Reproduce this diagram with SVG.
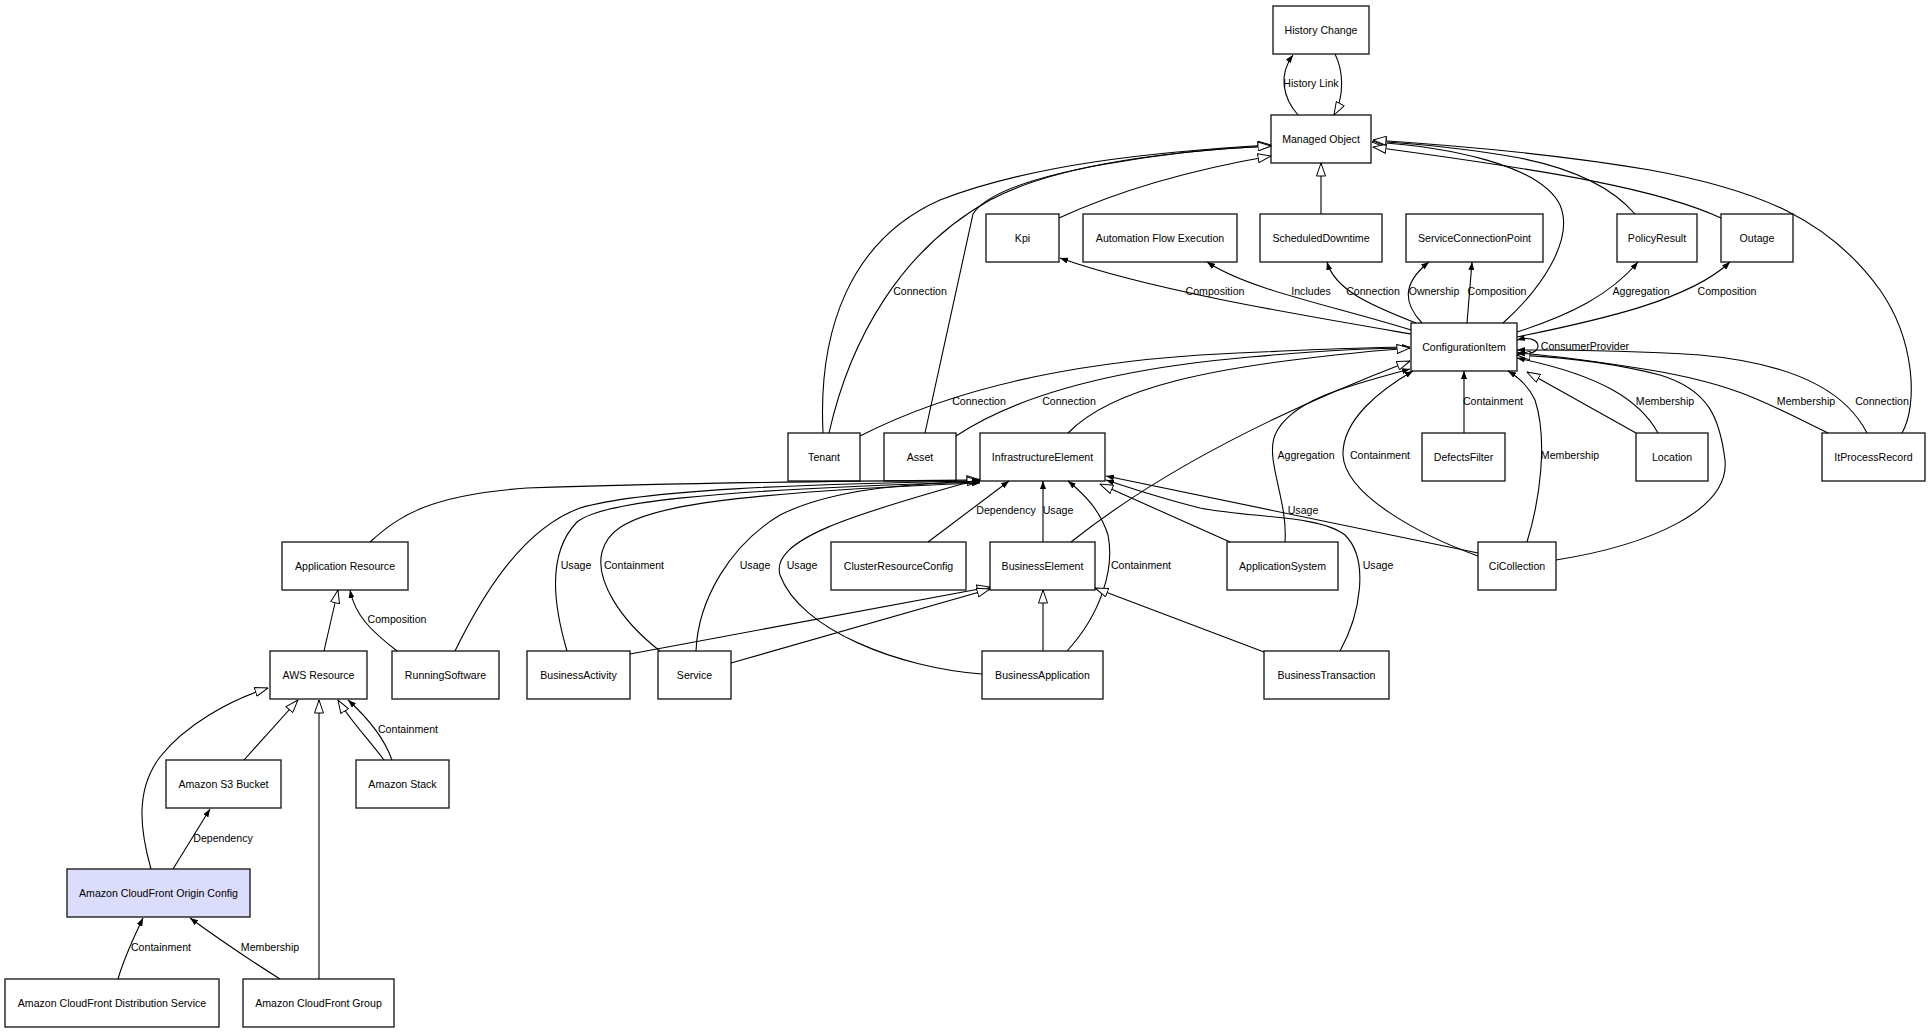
<svg xmlns="http://www.w3.org/2000/svg" width="1930" height="1033" viewBox="0 0 1930 1033">
<style>
.n rect{fill:#fff;stroke:#222;stroke-width:1.4}
.n text,.l{font-family:"Liberation Sans",Arial,sans-serif;font-size:10.6px;fill:#000;text-anchor:middle}
.e path{fill:none;stroke:#000;stroke-width:1.1}
.e .a{marker-end:url(#f)}
.e .g{marker-end:url(#h)}
</style>
<defs>
<marker id="f" viewBox="0 0 8 6" refX="8" refY="3" markerWidth="8" markerHeight="6" markerUnits="userSpaceOnUse" orient="auto"><path d="M0,0 L8,3 L0,6 z" fill="#000"/></marker>
<marker id="h" viewBox="0 0 14 10" refX="13.5" refY="5" markerWidth="14" markerHeight="10" markerUnits="userSpaceOnUse" orient="auto"><path d="M0.5,0.5 L13.5,5 L0.5,9.5 z" fill="#fff" stroke="#000" stroke-width="1"/></marker>
</defs>
<rect width="1930" height="1033" fill="#fff"/>
<g id="nodes">
<g id="HistoryChange" class="n"><rect x="1273" y="6" width="96" height="48"/><text x="1321" y="34">History Change</text></g>
<g id="ManagedObject" class="n"><rect x="1271" y="115" width="100" height="48"/><text x="1321" y="143">Managed Object</text></g>
<g id="Kpi" class="n"><rect x="986" y="214" width="73" height="48"/><text x="1022.5" y="242">Kpi</text></g>
<g id="AutomationFlowExecution" class="n"><rect x="1083" y="214" width="154" height="48"/><text x="1160" y="242">Automation Flow Execution</text></g>
<g id="ScheduledDowntime" class="n"><rect x="1260" y="214" width="122" height="48"/><text x="1321" y="242">ScheduledDowntime</text></g>
<g id="ServiceConnectionPoint" class="n"><rect x="1406" y="214" width="137" height="48"/><text x="1474.5" y="242">ServiceConnectionPoint</text></g>
<g id="PolicyResult" class="n"><rect x="1617" y="214" width="80" height="48"/><text x="1657" y="242">PolicyResult</text></g>
<g id="Outage" class="n"><rect x="1721" y="214" width="72" height="48"/><text x="1757" y="242">Outage</text></g>
<g id="ConfigurationItem" class="n"><rect x="1411" y="323" width="106" height="48"/><text x="1464" y="351">ConfigurationItem</text></g>
<g id="Tenant" class="n"><rect x="788" y="433" width="72" height="48"/><text x="824" y="461">Tenant</text></g>
<g id="Asset" class="n"><rect x="884" y="433" width="72" height="48"/><text x="920" y="461">Asset</text></g>
<g id="InfrastructureElement" class="n"><rect x="980" y="433" width="125" height="48"/><text x="1042.5" y="461">InfrastructureElement</text></g>
<g id="DefectsFilter" class="n"><rect x="1422" y="433" width="83" height="48"/><text x="1463.5" y="461">DefectsFilter</text></g>
<g id="Location" class="n"><rect x="1636" y="433" width="72" height="48"/><text x="1672" y="461">Location</text></g>
<g id="ItProcessRecord" class="n"><rect x="1822" y="433" width="103" height="48"/><text x="1873.5" y="461">ItProcessRecord</text></g>
<g id="ApplicationResource" class="n"><rect x="282" y="542" width="126" height="48"/><text x="345" y="570">Application Resource</text></g>
<g id="ClusterResourceConfig" class="n"><rect x="831" y="542" width="135" height="48"/><text x="898.5" y="570">ClusterResourceConfig</text></g>
<g id="BusinessElement" class="n"><rect x="990" y="542" width="105" height="48"/><text x="1042.5" y="570">BusinessElement</text></g>
<g id="ApplicationSystem" class="n"><rect x="1227" y="542" width="111" height="48"/><text x="1282.5" y="570">ApplicationSystem</text></g>
<g id="CiCollection" class="n"><rect x="1478" y="542" width="78" height="48"/><text x="1517" y="570">CiCollection</text></g>
<g id="AWSResource" class="n"><rect x="270" y="651" width="97" height="48"/><text x="318.5" y="679">AWS Resource</text></g>
<g id="RunningSoftware" class="n"><rect x="392" y="651" width="107" height="48"/><text x="445.5" y="679">RunningSoftware</text></g>
<g id="BusinessActivity" class="n"><rect x="527" y="651" width="103" height="48"/><text x="578.5" y="679">BusinessActivity</text></g>
<g id="Service" class="n"><rect x="658" y="651" width="73" height="48"/><text x="694.5" y="679">Service</text></g>
<g id="BusinessApplication" class="n"><rect x="982" y="651" width="121" height="48"/><text x="1042.5" y="679">BusinessApplication</text></g>
<g id="BusinessTransaction" class="n"><rect x="1264" y="651" width="125" height="48"/><text x="1326.5" y="679">BusinessTransaction</text></g>
<g id="AmazonS3Bucket" class="n"><rect x="166" y="760" width="115" height="48"/><text x="223.5" y="788">Amazon S3 Bucket</text></g>
<g id="AmazonStack" class="n"><rect x="356" y="760" width="93" height="48"/><text x="402.5" y="788">Amazon Stack</text></g>
<g id="AmazonCloudFrontOriginConfig" class="n"><rect x="67" y="869" width="183" height="48" style="fill:#dcdcfc"/><text x="158.5" y="897">Amazon CloudFront Origin Config</text></g>
<g id="AmazonCloudFrontDistributionService" class="n"><rect x="5" y="979" width="214" height="48"/><text x="112" y="1007">Amazon CloudFront Distribution Service</text></g>
<g id="AmazonCloudFrontGroup" class="n"><rect x="243" y="979" width="151" height="48"/><text x="318.5" y="1007">Amazon CloudFront Group</text></g>
</g>
<g id="connectors" class="e">
<path class="a" d="M1298,115 C1283,98 1278,75 1293,55"/>
<path class="g" d="M1335,54 C1343,70 1345,95 1334,115"/>
<path class="g" d="M1321,214 L1321,163"/>
<path class="g" d="M1059,218 C1120,190 1190,170 1271,156"/>
<path class="g" d="M823,433 C818,330 850,240 940,200 C1030,165 1150,152 1271,145"/>
<path class="a" d="M829,433 C850,340 900,250 990,200 C1050,168 1150,152 1271,146"/>
<path class="g" d="M925,433 L973,214 C985,195 1030,178 1100,165 C1160,154 1220,148 1271,146"/>
<path class="g" d="M1503,323 C1540,290 1575,240 1560,205 C1540,165 1450,147 1372,142"/>
<path class="g" d="M1635,214 C1610,185 1570,168 1520,158 C1470,149 1420,144 1373,141"/>
<path class="g" d="M1721,218 C1660,190 1560,172 1373,147"/>
<path class="g" d="M1902,433 C1918,405 1915,340 1880,290 C1830,220 1760,190 1650,170 C1550,153 1450,145 1373,140"/>
<path class="a" d="M1411,334 C1300,315 1150,290 1060,258"/>
<path class="a" d="M1411,330 C1330,305 1250,290 1207,262"/>
<path class="a" d="M1416,323 C1370,305 1335,290 1327,262"/>
<path class="a" d="M1422,323 C1405,305 1400,285 1429,262"/>
<path class="a" d="M1467,323 L1472,262"/>
<path class="a" d="M1517,332 C1570,315 1610,295 1638,262"/>
<path class="a" d="M1517,337 C1600,320 1690,300 1730,262"/>
<path class="a" d="M1517,352 C1545,360 1545,332 1517,340"/>
<path class="a" d="M860,436 C940,395 1050,365 1200,355 C1300,350 1370,347 1410,347"/>
<path class="a" d="M956,436 C1010,400 1100,370 1250,357 C1330,350 1380,348 1410,348"/>
<path class="g" d="M1068,433 C1110,390 1200,365 1410,348"/>
<path class="g" d="M1071,542 C1130,495 1230,430 1410,361"/>
<path class="a" d="M1285,542 C1288,500 1265,460 1275,435 C1290,400 1350,385 1410,369"/>
<path class="a" d="M1478,556 C1420,535 1345,495 1343,455 C1342,420 1380,390 1413,371"/>
<path class="a" d="M1464,433 L1464,371"/>
<path class="a" d="M1527,542 C1540,500 1548,440 1535,400 C1528,385 1518,377 1508,371"/>
<path class="g" d="M1636,433 L1527,372"/>
<path class="a" d="M1658,433 C1640,400 1600,375 1517,358"/>
<path class="g" d="M1556,560 C1650,545 1730,510 1725,460 C1720,420 1710,390 1660,375 C1610,362 1560,357 1517,355"/>
<path class="a" d="M1828,433 C1770,405 1740,385 1650,370 C1600,362 1560,356 1517,353"/>
<path class="a" d="M1867,433 C1850,400 1810,365 1700,355 C1620,350 1560,350 1517,350"/>
<path class="g" d="M370,542 C400,515 430,495 527,488 C700,482 850,481 980,480"/>
<path class="g" d="M455,651 C480,600 520,530 580,508 C640,490 800,484 980,481"/>
<path class="a" d="M567,651 C555,610 545,555 577,522 C600,503 700,490 980,482"/>
<path class="a" d="M660,651 C620,620 595,580 602,552 C612,515 660,495 980,483"/>
<path class="a" d="M696,651 C698,600 730,545 780,515 C830,490 900,484 980,481"/>
<path class="a" d="M982,674 C900,668 800,630 780,575 C770,540 850,515 980,479"/>
<path class="a" d="M928,542 L1009,481"/>
<path class="a" d="M1043,542 L1043,481"/>
<path class="a" d="M1067,651 C1100,615 1115,570 1108,535 C1100,510 1085,495 1068,481"/>
<path class="g" d="M1230,542 L1100,484"/>
<path class="a" d="M1478,553 L1106,476"/>
<path class="a" d="M1340,651 C1360,615 1370,560 1345,535 C1320,515 1250,518 1200,508 C1160,498 1130,488 1106,480"/>
<path class="g" d="M630,654 L990,587"/>
<path class="g" d="M731,663 L990,589"/>
<path class="g" d="M1043,651 L1043,590"/>
<path class="g" d="M1264,652 L1095,588"/>
<path class="g" d="M324,651 L338,590"/>
<path class="a" d="M397,651 C370,630 355,615 350,590"/>
<path class="g" d="M244,760 L298,700"/>
<path class="g" d="M151,869 C140,830 135,790 160,757 C185,725 230,700 268,688"/>
<path class="a" d="M173,869 L210,809"/>
<path class="g" d="M384,760 C365,735 350,720 338,700"/>
<path class="a" d="M392,760 C385,740 370,720 348,700"/>
<path class="g" d="M319,979 L319,700"/>
<path class="a" d="M118,979 C125,955 135,935 143,918"/>
<path class="a" d="M280,979 C250,960 220,940 190,918"/>
</g>
<g id="labels">
<text class="l" x="1311" y="87">History Link</text>
<text class="l" x="920" y="295">Connection</text>
<text class="l" x="1215" y="295">Composition</text>
<text class="l" x="1311" y="295">Includes</text>
<text class="l" x="1373" y="295">Connection</text>
<text class="l" x="1434" y="295">Ownership</text>
<text class="l" x="1497" y="295">Composition</text>
<text class="l" x="1641" y="295">Aggregation</text>
<text class="l" x="1727" y="295">Composition</text>
<text class="l" x="1585" y="350">ConsumerProvider</text>
<text class="l" x="979" y="405">Connection</text>
<text class="l" x="1069" y="405">Connection</text>
<text class="l" x="1493" y="405">Containment</text>
<text class="l" x="1665" y="405">Membership</text>
<text class="l" x="1806" y="405">Membership</text>
<text class="l" x="1882" y="405">Connection</text>
<text class="l" x="1306" y="459">Aggregation</text>
<text class="l" x="1380" y="459">Containment</text>
<text class="l" x="1570" y="459">Membership</text>
<text class="l" x="1006" y="514">Dependency</text>
<text class="l" x="1058" y="514">Usage</text>
<text class="l" x="1303" y="514">Usage</text>
<text class="l" x="576" y="569">Usage</text>
<text class="l" x="634" y="569">Containment</text>
<text class="l" x="755" y="569">Usage</text>
<text class="l" x="802" y="569">Usage</text>
<text class="l" x="1141" y="569">Containment</text>
<text class="l" x="1378" y="569">Usage</text>
<text class="l" x="397" y="623">Composition</text>
<text class="l" x="408" y="733">Containment</text>
<text class="l" x="223" y="842">Dependency</text>
<text class="l" x="161" y="951">Containment</text>
<text class="l" x="270" y="951">Membership</text>
</g>
</svg>
